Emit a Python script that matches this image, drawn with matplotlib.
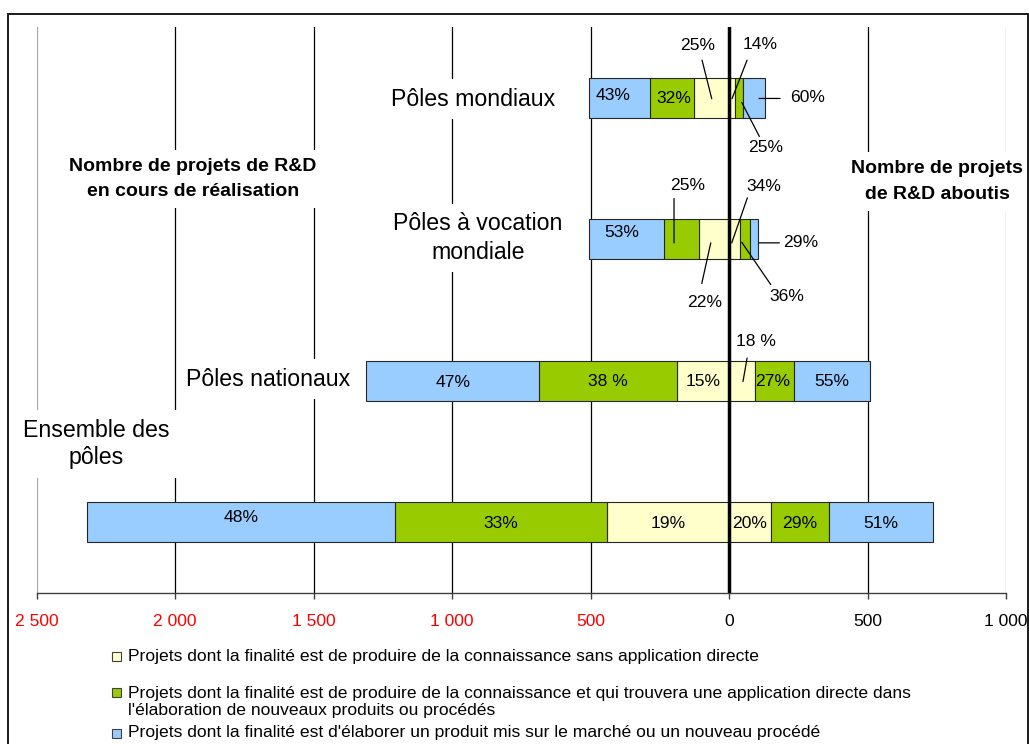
import matplotlib
matplotlib.use("Agg")
import matplotlib.pyplot as plt
from matplotlib.patches import Rectangle
from matplotlib.transforms import ScaledTranslation
import numpy as np

plt.rcParams['font.family'] = ['Liberation Sans', 'DejaVu Sans']

# ---------------- data ----------------
categories = ["Pôles mondiaux", "Pôles à vocation\nmondiale", "Pôles nationaux", "Ensemble des\npôles"]

# Projets de R&D en cours de réalisation (drawn to the left)
cours_connaissance = [125, 109, 189, 439]
cours_application = [161, 126, 496, 769]
cours_produit = [218, 269, 625, 1111]
# Projets de R&D aboutis (drawn to the right)
about_connaissance = [21, 39, 92, 150]
about_application = [31, 36, 141, 211]
about_produit = [78, 31, 277, 377]

pct_cours_connaissance = ["25%", "22%", "15%", "19%"]
pct_cours_application = ["32%", "25%", "38 %", "33%"]
pct_cours_produit = ["43%", "53%", "47%", "48%"]
pct_about_connaissance = ["14%", "34%", "18 %", "20%"]
pct_about_application = ["25%", "36%", "27%", "29%"]
pct_about_produit = ["60%", "29%", "55%", "51%"]

tick_values = [-2500, -2000, -1500, -1000, -500, 0, 500, 1000]
tick_labels = ["2 500", "2 000", "1 500", "1 000", "500", "0", "500", "1 000"]

legend_labels = [
    "Projets dont la finalité est de produire de la connaissance sans application directe",
    "Projets dont la finalité est de produire de la connaissance et qui trouvera une application directe dans\nl'élaboration de nouveaux produits ou procédés",
    "Projets dont la finalité est d'élaborer un produit mis sur le marché ou un nouveau procédé",
]
side_titles = ["Nombre de projets de R&D\nen cours de réalisation", "Nombre de projets\nde R&D aboutis"]

# ---------------- style ----------------
C_YEL = "#FFFFCC"
C_GRN = "#99CC00"
C_BLU = "#99CCFF"
EDGE = "#262626"
W, H = 1029, 744
PX = 0.72  # points per pixel at dpi 100

fig = plt.figure(figsize=(W / 100, H / 100), dpi=100)
ax = fig.add_axes([36.7 / W, 1 - 593 / H, 969.3 / W, 566 / H])
ax.set_xlim(-2500, 1000)
ax.set_ylim(3.5, -0.5)

y = np.arange(len(categories))
bh = 0.283
kw = dict(height=bh, edgecolor=EDGE, linewidth=0.8, zorder=3)

cy_ = np.array(cours_connaissance)
ca_ = np.array(cours_application)
cp_ = np.array(cours_produit)
ay_ = np.array(about_connaissance)
aa_ = np.array(about_application)
ap_ = np.array(about_produit)

bars = {}
bars[('L', 'y')] = ax.barh(y, -cy_, left=0, color=C_YEL, **kw)
bars[('L', 'g')] = ax.barh(y, -ca_, left=-cy_, color=C_GRN, **kw)
bars[('L', 'b')] = ax.barh(y, -cp_, left=-(cy_ + ca_), color=C_BLU, **kw)
bars[('R', 'y')] = ax.barh(y, ay_, left=0, color=C_YEL, **kw)
bars[('R', 'g')] = ax.barh(y, aa_, left=ay_, color=C_GRN, **kw)
bars[('R', 'b')] = ax.barh(y, ap_, left=ay_ + aa_, color=C_BLU, **kw)

texts = {
    ('L', 'y'): pct_cours_connaissance, ('L', 'g'): pct_cours_application, ('L', 'b'): pct_cours_produit,
    ('R', 'y'): pct_about_connaissance, ('R', 'g'): pct_about_application, ('R', 'b'): pct_about_produit,
}

# label layout: ('in', dx, dy) or ('call', (line start), (line end), (text)) -- pixel offsets from segment centre
layout = {
    ('L', 'b', 0): ('in', -7, -2), ('L', 'g', 0): ('in', 2, 1),
    ('L', 'y', 0): ('call', (0, 1), (-9.7, -37.6), (-13.7, -52.3)),
    ('R', 'y', 0): ('call', (0, 1), (15.1, -37.6), (28.1, -53.3)),
    ('R', 'g', 0): ('call', (2.6, 4.7), (20.2, 38.7), (26.9, 49.7)),
    ('R', 'b', 0): ('call', (4.8, 0.7), (25.8, 0.7), (53.8, -0.6)),
    ('L', 'b', 1): ('in', -5, -7),
    ('L', 'g', 1): ('call', (-7.4, 3.6), (-7.4, -40.7), (6.3, -53.7)),
    ('L', 'y', 1): ('call', (-3.2, 3.6), (-12.2, 44.3), (-8.9, 63)),
    ('R', 'y', 1): ('call', (-2.7, 3.6), (12.9, -41.4), (28.9, -52.4)),
    ('R', 'g', 1): ('call', (-3.1, 3), (25.9, 45.3), (41.9, 57)),
    ('R', 'b', 1): ('call', (4.9, 3.6), (25.2, 3.6), (46.6, 3.6)),
    ('L', 'b', 2): ('in', 0, 1.5), ('L', 'g', 2): ('in', 0, 1), ('L', 'y', 2): ('in', 0, 1),
    ('R', 'y', 2): ('call', (1.2, 0.7), (5.3, -22.7), (14.3, -39.3)),
    ('R', 'g', 2): ('in', -1, 1), ('R', 'b', 2): ('in', 0, 1),
    ('L', 'b', 3): ('in', 0, -4.3), ('L', 'g', 3): ('in', 0, 1.3), ('L', 'y', 3): ('in', 0, 1),
    ('R', 'y', 3): ('in', 0, 1), ('R', 'g', 3): ('in', 0, 1), ('R', 'b', 3): ('in', 0, 1),
}

FS_PCT = 12.6
for key, cont in bars.items():
    for i, rect in enumerate(cont.patches):
        cx = rect.get_x() + rect.get_width() / 2
        cyv = rect.get_y() + rect.get_height() / 2
        txt = texts[key][i]
        spec = layout[(key[0], key[1], i)]
        if spec[0] == 'in':
            ax.annotate(txt, (cx, cyv), xytext=(spec[1] * PX, -spec[2] * PX), textcoords='offset points',
                        ha='center', va='center', fontsize=FS_PCT, zorder=6)
        else:
            (sx, sy), (ex, ey), (tx, ty) = spec[1], spec[2], spec[3]
            tr = ax.transData + ScaledTranslation(sx / 100, -sy / 100, fig.dpi_scale_trans)
            ax.annotate('', xy=(cx, cyv), xycoords=tr, xytext=((ex - sx) * PX, -(ey - sy) * PX),
                        textcoords='offset points',
                        arrowprops=dict(arrowstyle='-', shrinkA=0, shrinkB=0, lw=0.9, color='black'),
                        zorder=6)
            ax.annotate(txt, (cx, cyv), xytext=(tx * PX, -ty * PX), textcoords='offset points',
                        ha='center', va='center', fontsize=FS_PCT, zorder=6)

# grid lines
for v in tick_values:
    if v == 0:
        continue
    col = '#A6A6A6' if v in (tick_values[0], tick_values[-1]) else 'black'
    ax.axvline(v, color=col, lw=0.9, zorder=0.5)
ax.axvline(0, color='black', lw=2.5, zorder=5)

# axes styling
for s in ('left', 'right', 'top'):
    ax.spines[s].set_visible(False)
ax.spines['bottom'].set_color('#404040')
ax.spines['bottom'].set_linewidth(1.0)
ax.set_yticks([])
ax.set_xticks(tick_values)
ax.set_xticklabels(tick_labels, fontsize=12.6)
ax.tick_params(axis='x', length=4.5, width=1.0, color='#404040', pad=10.5)
for lab, v in zip(ax.get_xticklabels(), tick_values):
    lab.set_color('red' if v < 0 else 'black')

# category labels
cat_pos = [(-924, 0.009), (-906, 0.99), (-1664, 1.988), (-2286, 2.447)]
cat_ls = [1.2, 1.33, 1.2, 1.25]
for name, (xx, yy), ls in zip(categories, cat_pos, cat_ls):
    ax.text(xx, yy, name, ha='center', va='center', fontsize=16.7, linespacing=ls,
            bbox=dict(facecolor='white', edgecolor='none', pad=6), zorder=2)

# side titles
ax.text(-1935, 0.574, side_titles[0], ha='center', va='center', fontsize=14, fontweight='bold',
        linespacing=1.6, bbox=dict(facecolor='white', edgecolor='none', pad=6), zorder=2)
ax.text(751, 0.592, side_titles[1], ha='center', va='center', fontsize=14, fontweight='bold',
        linespacing=1.65, bbox=dict(facecolor='white', edgecolor='none', pad=6), zorder=2)

# legend
leg_colors = [C_YEL, C_GRN, C_BLU]
leg_marker_y = [656, 692, 733]
leg_text_y = [656, 702, 733]
for lab, col, my, ty in zip(legend_labels, leg_colors, leg_marker_y, leg_text_y):
    fig.add_artist(Rectangle((111.5 / W, 1 - (my + 4.5) / H), 9 / W, 9 / H, transform=fig.transFigure,
                             facecolor=col, edgecolor='#404040', linewidth=0.8))
    fig.text(128 / W, 1 - ty / H, lab, ha='left', va='center', fontsize=12.6, linespacing=1.13)

# figure border
fig.add_artist(Rectangle((8.3 / W, -0.02), (1027.5 - 8.3) / W, 1.02 - 14 / H, transform=fig.transFigure,
                         facecolor='none', edgecolor='#1a1a1a', linewidth=1.4))

fig.savefig('out.png', dpi=100)
